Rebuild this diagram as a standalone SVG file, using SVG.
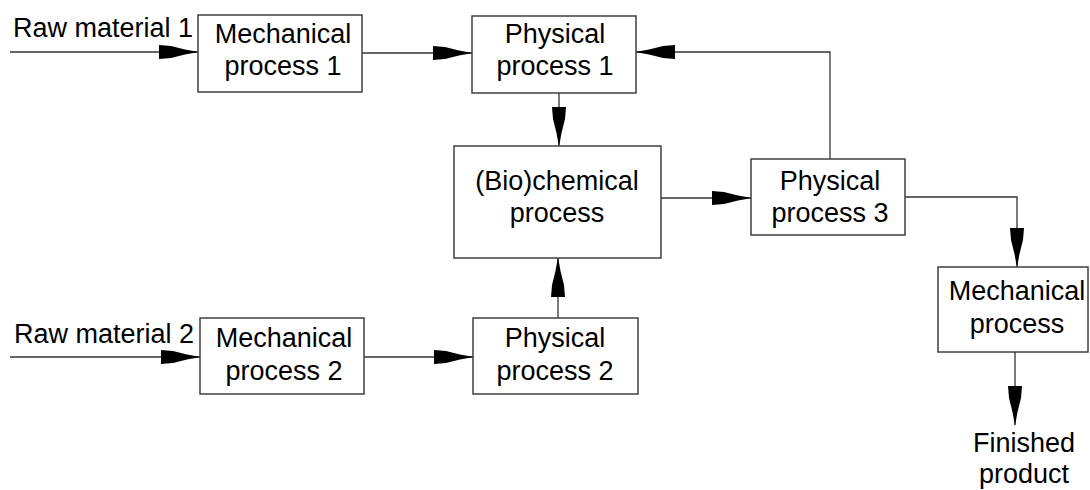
<svg xmlns="http://www.w3.org/2000/svg" width="1090" height="490" viewBox="0 0 1090 490">
<style>
.box{fill:#fff;stroke:#404040;stroke-width:1.5}
.t{font-family:"Liberation Sans",Arial,sans-serif;font-size:27px;fill:#000;text-anchor:middle}
.ts{font-family:"Liberation Sans",Arial,sans-serif;font-size:27px;fill:#000}
.c{fill:none;stroke:#333;stroke-width:1.3;marker-end:url(#ah)}
</style>
<defs>
<marker id="ah" markerUnits="userSpaceOnUse" markerWidth="40" markerHeight="14" refX="39" refY="7" orient="auto" viewBox="0 0 40 14">
<path d="M0,0 L12,1 L26,4.5 L40,7 L26,9.5 L12,13 L0,14 z" fill="#000"/>
</marker>
</defs>
<rect width="1090" height="490" fill="#fff"/>
<g id="connectors">
<path class="c" d="M10,52 H198"/>
<path class="c" d="M362,53 H472"/>
<path class="c" d="M10,357 H200"/>
<path class="c" d="M364,357 H473"/>
<path class="c" d="M559,93 V146"/>
<path class="c" d="M558,318 V258"/>
<path class="c" d="M661,198 H751"/>
<path class="c" d="M830,159 V52 H636"/>
<path class="c" d="M905,197 H1017 V267"/>
<path class="c" d="M1015,352 V425"/>
</g>
<g id="raw1"><text class="ts" x="13" y="37">Raw material 1</text></g>
<g id="raw2"><text class="ts" x="14" y="343">Raw material 2</text></g>
<g id="mech1"><rect class="box" x="198" y="15" width="164" height="77"/><text class="t" x="283" y="43">Mechanical</text><text class="t" x="283" y="75">process 1</text></g>
<g id="phys1"><rect class="box" x="472" y="16" width="164" height="77"/><text class="t" x="555" y="43">Physical</text><text class="t" x="555" y="75">process 1</text></g>
<g id="bio"><rect class="box" x="454" y="146" width="207" height="112"/><text class="t" x="557" y="190">(Bio)chemical</text><text class="t" x="557" y="222">process</text></g>
<g id="phys3"><rect class="box" x="751" y="159" width="154" height="76"/><text class="t" x="830" y="190">Physical</text><text class="t" x="830" y="222">process 3</text></g>
<g id="mech2"><rect class="box" x="200" y="318" width="164" height="76"/><text class="t" x="284" y="347">Mechanical</text><text class="t" x="284" y="380">process 2</text></g>
<g id="phys2"><rect class="box" x="473" y="318" width="165" height="76"/><text class="t" x="555" y="347">Physical</text><text class="t" x="555" y="380">process 2</text></g>
<g id="mech3"><rect class="box" x="938" y="267" width="150" height="85"/><text class="t" x="1017" y="300">Mechanical</text><text class="t" x="1017" y="333">process</text></g>
<g id="finished"><text class="t" x="1024" y="452">Finished</text><text class="t" x="1024" y="483">product</text></g>
</svg>
